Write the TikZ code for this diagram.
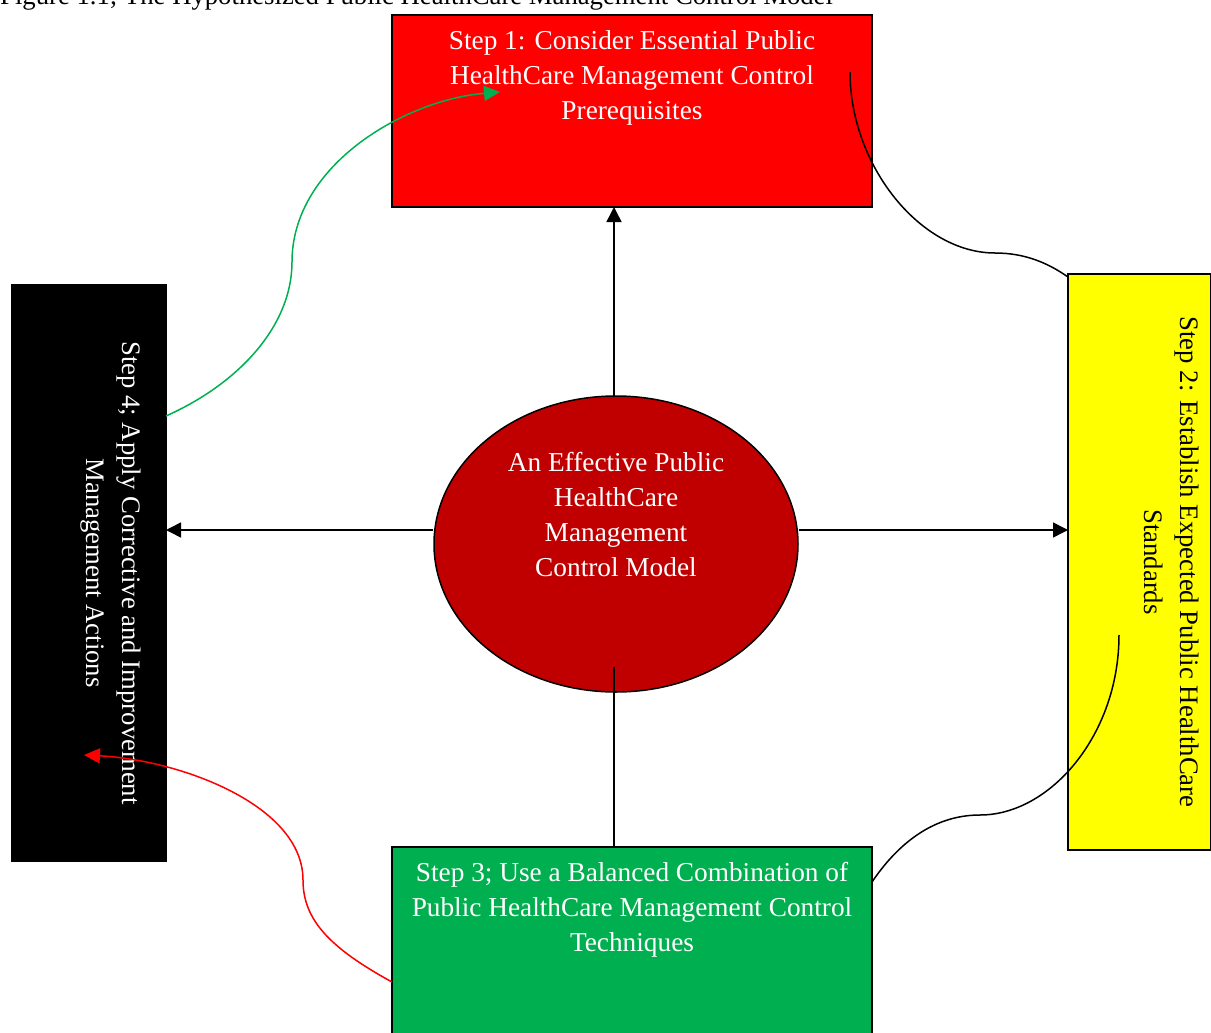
\documentclass[tikz,border=0pt]{standalone}
\usepackage{fontspec}
\setmainfont{Liberation Serif}
\usetikzlibrary{shapes.geometric,arrows.meta}
\definecolor{stepred}{HTML}{FF0000}
\definecolor{stepyellow}{HTML}{FFFF00}
\definecolor{stepgreen}{HTML}{00B050}
\definecolor{coredark}{HTML}{C00000}
\tikzset{
  stepbox/.style={draw=black, line width=1.6pt, inner sep=0pt, outer sep=0pt},
  steptext/.style={align=center, inner sep=0pt, font=\fontsize{27.3}{35}\selectfont},
  sidetext/.style={align=center, inner sep=0pt, rotate=-90, font=\fontsize{26.7}{36}\selectfont},
  link/.style={line width=1.5pt},
  arr/.style={link, -{Triangle[length=15pt,width=15pt]}},
  curvearr/.style={link, -{Triangle[length=16pt,width=15pt]}},
}
\begin{document}
\begin{tikzpicture}[x=1pt, y=-1pt]
\useasboundingbox (0,0) rectangle (1211,1033);
% caption, partly above the page edge
\node[anchor=base west, inner sep=0pt, font=\fontsize{26.7}{30}\selectfont] (caption) at (0,5)
  {Figure 1.1; The Hypothesized Public HealthCare Management Control Model};
% the four steps
\node[stepbox, fill=stepred, minimum width=480pt, minimum height=192pt] (s1) at (632,111) {};
\node[stepbox, fill=stepyellow, minimum width=143pt, minimum height=576pt] (s2) at (1139.5,562) {};
\node[stepbox, fill=stepgreen, minimum width=480pt, minimum height=200pt] (s3) at (632,947) {};
\node[stepbox, fill=black, minimum width=154pt, minimum height=576pt] (s4) at (89,573) {};
% centre
\node[draw=black, line width=1.5pt, fill=coredark, ellipse, minimum width=364pt, minimum height=296pt, inner sep=0pt] (core) at (616,544) {};
% texts
\node[steptext, text=white, anchor=north] (t1) at (632,30)
  {Step 1: Consider Essential Public\\HealthCare Management Control\\Prerequisites};
\node[steptext, text=white, anchor=north] (t3) at (632,862)
  {Step 3; Use a Balanced Combination of\\Public HealthCare Management Control\\Techniques};
\node[steptext, text=white, anchor=north] (tc) at (616,452)
  {An Effective Public\\HealthCare\\Management\\Control Model};
\node[sidetext, text=black, anchor=north] (t2) at (1199,562)
  {Step 2: Establish Expected Public HealthCare\\Standards};
\node[sidetext, text=white, anchor=north] (t4) at (141,573)
  {Step 4; Apply Corrective and Improvement\\Management Actions};
% straight connectors
\coordinate (upfoot) at (614,396);
\coordinate (uphead) at (614,207);
\draw[arr] (upfoot) -- (uphead);
\coordinate (downfoot) at (614,667);
\coordinate (downhead) at (614,847);
\draw[link] (downfoot) -- (downhead);
\draw[arr] ([yshift=14pt]core.west) -- (s4.east |- 0,530);
\draw[arr] ([yshift=14pt]core.east) -- (s2.west |- 0,530);
% curved links between the steps
\coordinate (c1a) at (850,72);
\coordinate (c1b) at (995,253);
\coordinate (c1c) at (1068,277);
\draw[link] (c1a) .. controls (850,165) and (920,253) .. (c1b) .. controls (1025,253) and (1048,263) .. (c1c);
\coordinate (c2a) at (1119,635);
\coordinate (c2b) at (980,815);
\coordinate (c2c) at (872,882);
\draw[link] (c2a) .. controls (1119,735) and (1050,815) .. (c2b) .. controls (930,815) and (895,848) .. (c2c);
\coordinate (g1) at (166,416);
\coordinate (g2) at (292,262);
\coordinate (g3) at (500,92);
\draw[curvearr, stepgreen] (g1) .. controls (240,383) and (292,325) .. (g2) .. controls (292,165) and (405,100) .. (g3);
\coordinate (r1) at (392,982);
\coordinate (r2) at (303,880);
\coordinate (r3) at (84,755);
\draw[curvearr, stepred] (r1) .. controls (330,948) and (303,920) .. (r2) .. controls (303,805) and (180,760) .. (r3);
\end{tikzpicture}
\end{document}
